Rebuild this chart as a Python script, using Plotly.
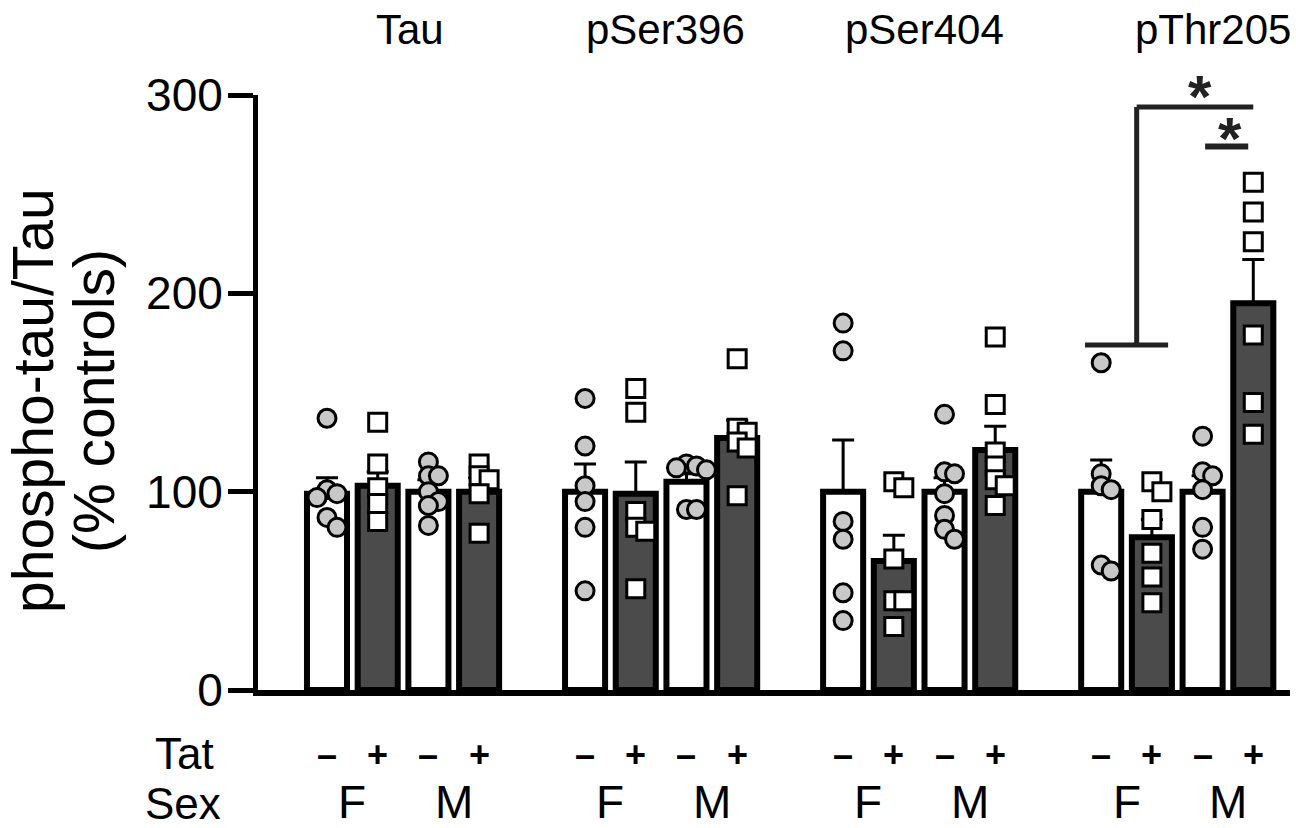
import plotly.graph_objects as go

# ----- values (% controls) -----
targets = ['Tau', 'pSer396', 'pSer404', 'pThr205']
tat_signs = ['–', '+', '–', '+']
sex_labels = ['F', 'M']

# bar order inside a target: F Tat-, F Tat+, M Tat-, M Tat+
tau_mean = [99, 103, 100, 100]
tau_sem = [8, 7, 6, 7]
tau_f_ctrl = [137, 101, 99, 97, 87, 82]
tau_f_tat = [135, 114, 102, 94, 85]
tau_m_ctrl = [115, 108, 108, 100, 95, 93, 83]
tau_m_tat = [114, 108, 106, 99, 79]

ser396_mean = [100, 99, 105, 127]
ser396_sem = [14, 16, 4, 9]
ser396_f_ctrl = [147, 123, 103, 95, 82, 50]
ser396_f_tat = [152, 140, 90, 82, 80, 51]
ser396_m_ctrl = [114, 113, 112, 111, 91, 91]
ser396_m_tat = [167, 132, 130, 125, 122, 98]

ser404_mean = [100, 65, 100, 121]
ser404_sem = [26, 13, 7, 12]
ser404_f_ctrl = [185, 171, 85, 76, 49, 35]
ser404_f_tat = [105, 102, 66, 45, 45, 32]
ser404_m_ctrl = [139, 110, 109, 99, 88, 81, 76]
ser404_m_tat = [178, 144, 120, 113, 106, 103, 93]

thr205_mean = [100, 77, 100, 195]
thr205_sem = [16, 9, 8, 22]
thr205_f_ctrl = [165, 109, 103, 101, 63, 60]
thr205_f_tat = [105, 100, 86, 69, 57, 44]
thr205_m_ctrl = [128, 110, 108, 101, 82, 71]
thr205_m_tat = [256, 241, 226, 179, 145, 129]

# significance brackets (pThr205)
bracket_low = 174
bracket_high = 294
bracket_short = 274
# ---------------------------------------------------

all_means = [tau_mean, ser396_mean, ser404_mean, thr205_mean]
all_sem = [tau_sem, ser396_sem, ser404_sem, thr205_sem]
all_pts = [
    [tau_f_ctrl, tau_f_tat, tau_m_ctrl, tau_m_tat],
    [ser396_f_ctrl, ser396_f_tat, ser396_m_ctrl, ser396_m_tat],
    [ser404_f_ctrl, ser404_f_tat, ser404_m_ctrl, ser404_m_tat],
    [thr205_f_ctrl, thr205_f_tat, thr205_m_ctrl, thr205_m_tat],
]

W, H = 1296, 828
plot_w, plot_h = 1032, 595
ml, mt = 258, 95
mr = W - ml - plot_w
mb = H - mt - plot_h
gap = 5.09
xr = [-1.361, 18.994]
yr = [0, 300]
px_x = plot_w / (xr[1] - xr[0])
px_y = plot_h / (yr[1] - yr[0])
FONT = 'Liberation Sans, Arial, sans-serif'
fill = ['white', '#4b4b4b', 'white', '#4b4b4b']


def py(pix):
    # pixel row -> paper y
    return (mt + plot_h - pix) / plot_h


def px(pix):
    # pixel column -> paper x
    return (pix - ml) / plot_w


def swarm(vals, step=10, mind=10):
    # simple beeswarm in pixel space -> x offsets in data units
    placed, offs = [], []
    for v in vals:
        yp = v * px_y
        xo = 0
        for k in [0, 1, -1, 2, -2, 3, -3]:
            xo = k * step
            if all((xo - a) ** 2 + (yp - b) ** 2 >= mind ** 2 for a, b in placed):
                break
        placed.append((xo, yp))
        offs.append(xo / px_x)
    return offs


fig = go.Figure()
xpos = []
for g in range(4):
    xs = [g * gap + i for i in range(4)]
    xpos.append(xs)
    fig.add_trace(go.Bar(
        x=xs, y=all_means[g], width=0.79,
        marker=dict(color=fill, line=dict(color='black', width=6)),
        error_y=dict(type='data', symmetric=False, array=all_sem[g],
                     arrayminus=[0] * 4, color='black', thickness=3, width=11),
        showlegend=False, hoverinfo='skip'))

for g in range(4):
    for i in range(4):
        vals = sorted(all_pts[g][i], reverse=True)
        offs = swarm(vals)
        ctrl = i % 2 == 0
        fig.add_trace(go.Scatter(
            x=[xpos[g][i] + o for o in offs], y=vals, mode='markers',
            marker=dict(symbol='circle' if ctrl else 'square', size=18,
                        color='#c8c8c8' if ctrl else 'white',
                        line=dict(color='black', width=3)),
            cliponaxis=False, showlegend=False, hoverinfo='skip'))

# brackets
b = xpos[3]
lc = dict(color='#222222', width=5)
fig.add_shape(type='line', x0=b[0] - 0.32, x1=b[1] + 0.32, y0=bracket_low, y1=bracket_low, line=lc)
fig.add_shape(type='line', x0=b[1] - 0.3, x1=b[1] - 0.3, y0=bracket_low, y1=bracket_high, line=lc)
fig.add_shape(type='line', x0=b[1] - 0.3, x1=b[3], y0=bracket_high, y1=bracket_high, line=lc)
fig.add_shape(type='line', x0=b[2] + 0.05, x1=b[3] - 0.1, y0=bracket_short, y1=bracket_short,
              line=dict(color='#222222', width=6))

ann = []
ann.append(dict(x=b[2] - 0.05, y=bracket_high + 5, text='<b>*</b>',
                font=dict(size=60, color='#222222')))
ann.append(dict(x=b[2] + 0.54, y=bracket_short + 4, text='<b>*</b>',
                font=dict(size=60, color='#222222')))

# target titles
title_shift = [7, 4, 5, 36]
for g in range(4):
    ann.append(dict(x=g * gap + 1.5, yref='paper', y=py(30), text=targets[g],
                    xshift=title_shift[g], font=dict(size=42, color='black')))

# Tat / Sex rows
ann.append(dict(xref='paper', x=px(184), yref='paper', y=py(753), text='Tat',
                font=dict(size=44, color='black')))
ann.append(dict(xref='paper', x=px(183), yref='paper', y=py(803), text='Sex',
                font=dict(size=44, color='black')))
for g in range(4):
    for i in range(4):
        ann.append(dict(x=xpos[g][i], yref='paper', y=py(754),
                        text='<b>' + tat_signs[i] + '</b>',
                        font=dict(size=36, color='black')))
    for s in range(2):
        ann.append(dict(x=xpos[g][2 * s] + 0.5, yref='paper', y=py(802),
                        text=sex_labels[s], font=dict(size=46, color='black')))

# y title
ann.append(dict(xref='paper', x=px(33), yref='paper', y=py(401), text='phospho-tau/Tau',
                textangle=-90, font=dict(size=57, color='black')))
ann.append(dict(xref='paper', x=px(94), yref='paper', y=py(401), text='(% controls)',
                textangle=-90, font=dict(size=57, color='black')))

for a in ann:
    a.setdefault('xref', 'x')
    a.setdefault('yref', 'y')
    a['xanchor'] = 'center'
    a['yanchor'] = 'middle'
    a['showarrow'] = False

fig.update_layout(
    width=W, height=H,
    margin=dict(l=ml, r=mr, t=mt, b=mb, autoexpand=False),
    plot_bgcolor='white', paper_bgcolor='white',
    font=dict(family=FONT, color='black'),
    barmode='overlay',
    annotations=ann,
    xaxis=dict(range=xr, showline=True, linewidth=6, linecolor='black', automargin=False,
               showticklabels=False, ticks='', showgrid=False, zeroline=False),
    yaxis=dict(range=yr, showline=True, linewidth=5, linecolor='black', automargin=False,
               ticks='outside', ticklen=25, tickwidth=5, tickcolor='black',
               ticklabelstandoff=-4,
               tickvals=[0, 100, 200, 300], tickfont=dict(size=46, color='black'),
               showgrid=False, zeroline=False),
)

# drop the default 8px page margin so the figure fills the window, no modebar
fig.write_html("out.html", config={'displayModeBar': False},
               post_script="document.body.style.margin='0';")
